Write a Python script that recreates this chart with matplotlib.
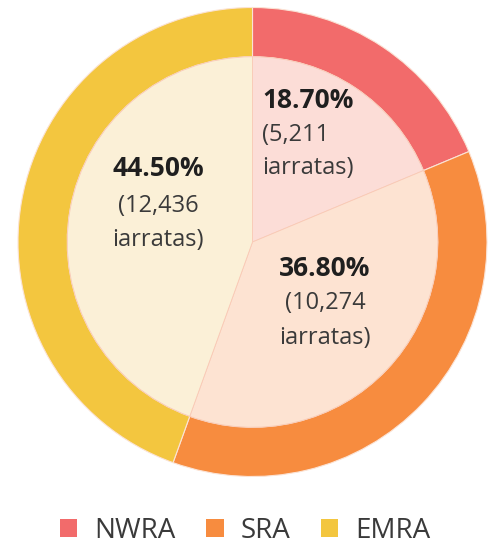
import matplotlib
matplotlib.use("Agg")
import matplotlib.pyplot as plt
from matplotlib.patches import Patch

regions = ["NWRA", "SRA", "EMRA"]
shares = [18.70, 36.80, 44.50]
counts = ["5,211", "10,274", "12,436"]
ring_colors = ["#F26B6B", "#F78C3F", "#F3C63F"]
fill_colors = ["#FCDDD7", "#FDE3D2", "#FBF0D7"]

plt.rcParams['font.family'] = ['Open Sans', 'DejaVu Sans']

fig = plt.figure(figsize=(4.91, 5.44), dpi=100)
cx, cy, r = 252.5, 242, 234.5
ax = fig.add_axes([(cx - r) / 491, (544 - cy - r) / 544, 2 * r / 491, 2 * r / 544])

# outer ring
ax.pie(shares, colors=ring_colors, startangle=90, counterclock=False, radius=1.0,
       wedgeprops=dict(width=0.21, edgecolor="#FBE3D5", linewidth=0.8))
# inner light pie
ax.pie(shares, colors=fill_colors, startangle=90, counterclock=False, radius=0.79,
       wedgeprops=dict(edgecolor="#F9C9B5", linewidth=0.6))
ax.set_xlim(-1, 1)
ax.set_ylim(-1, 1)
ax.set_aspect("equal")
ax.axis("off")

dark = "#1f1f1f"
txt = "#3a3a3a"


def px(x, y):
    return (x - cx) / r, (cy - y) / r


# label anchor points in pixel terms of the reference, converted to data units
label_pos = [((262, [100, 135, 168]), "left"),
             ((325, [268, 303, 338]), "center"),
             ((158, [168, 206, 240]), "center")]
for i, ((x, ys), ha) in enumerate(label_pos):
    lines = [f"{shares[i]:.2f}%", f"({counts[i]}", "iarratas)"]
    for j, (s, y) in enumerate(zip(lines, ys)):
        dx, dy = px(x, y)
        ax.text(dx, dy, s, ha=ha, va="center",
                fontsize=19 if j == 0 else 17,
                fontweight="bold" if j == 0 else "normal",
                color=dark if j == 0 else txt)

handles = [Patch(facecolor=c, edgecolor="none") for c in ring_colors]
fig.legend(handles, regions, loc="center", bbox_to_anchor=(0.5, 13 / 544), ncol=3,
           frameon=False, handlelength=0.62, handleheight=0.62,
           handletextpad=0.62, columnspacing=1.1, labelcolor=txt,
           prop=dict(size=20))

fig.savefig("out.png", dpi=100, facecolor="white")
